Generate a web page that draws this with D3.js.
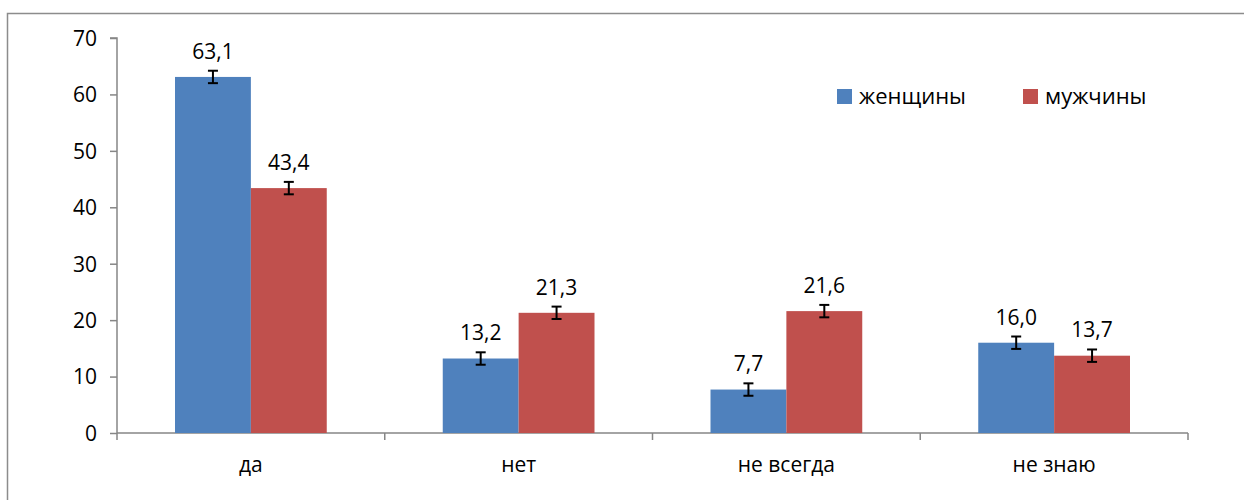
<!DOCTYPE html>
<html><head><meta charset="utf-8">
<script src="https://cdn.jsdelivr.net/npm/d3@7"></script>
<style>body{margin:0;background:#fff}svg{display:block}text{font-family:"Open Sans",sans-serif}</style>
</head><body><svg id="c" width="1244" height="500"></svg>
<script>
const categories = ["да", "нет", "не всегда", "не знаю"];
const seriesNames = ["женщины", "мужчины"];
const women = [63.1, 13.2, 7.7, 16.0];
const men = [43.4, 21.3, 21.6, 13.7];
const womenErr = [1.1, 1.1, 1.1, 1.1];
const menErr = [1.1, 1.1, 1.1, 1.1];
const yTicks = [0, 10, 20, 30, 40, 50, 60, 70];
const colors = ["#4F81BD", "#C0504D"];

(function () {
const svg = d3.select("#c");
const fmt = v => v.toFixed(1).replace(".", ",");
const FS = 21;

// outer frame
svg.append("rect").attr("x", 7.5).attr("y", 13.5).attr("width", 1260).attr("height", 520)
  .attr("fill", "none").attr("stroke", "#8c8c8c").attr("stroke-width", 1.5);

const pl = 117, pr = 1188, pt = 38, pb = 433;
const x0 = d3.scaleBand().domain(categories).range([pl, pr]).paddingInner(0).paddingOuter(0);
const x1 = d3.scaleBand().domain(seriesNames).range([58, x0.bandwidth() - 58]);
const y = d3.scaleLinear().domain([0, 70]).range([pb, pt]);

// y axis
const yAxis = svg.append("g").attr("transform", `translate(${pl},0)`)
  .call(d3.axisLeft(y).tickValues(yTicks).tickSize(7).tickPadding(13).tickFormat(d3.format("d")));
yAxis.select(".domain").attr("stroke", "#868686").attr("stroke-width", 1.5).attr("d", `M-7,${pt}H0V${pb}`);
yAxis.selectAll(".tick line").attr("stroke", "#868686").attr("stroke-width", 1.5);
yAxis.selectAll(".tick text").attr("font-size", FS).attr("fill", "#000").attr("font-family", "Open Sans").attr("dy", "0.35em");

// x axis
const xAxisG = svg.append("g").attr("transform", `translate(0,${pb})`);
xAxisG.append("line").attr("x1", pl).attr("x2", pr).attr("y1", 0).attr("y2", 0)
  .attr("stroke", "#868686").attr("stroke-width", 1.5);
const bounds = categories.map(c => x0(c)).concat([pr]);
xAxisG.selectAll("line.tk").data(bounds).join("line").attr("class", "tk")
  .attr("x1", d => d).attr("x2", d => d).attr("y1", 0).attr("y2", 7)
  .attr("stroke", "#868686").attr("stroke-width", 1.5);
xAxisG.selectAll("text").data(categories).join("text")
  .attr("x", d => x0(d) + x0.bandwidth() / 2).attr("y", 39)
  .attr("text-anchor", "middle").attr("font-size", FS).attr("fill", "#000").text(d => d);

// bars
const data = categories.map((c, i) => ({ c, vals: [
  { s: seriesNames[0], v: women[i], e: womenErr[i], col: colors[0] },
  { s: seriesNames[1], v: men[i], e: menErr[i], col: colors[1] } ] }));

const g = svg.append("g");
const grp = g.selectAll("g").data(data).join("g").attr("transform", d => `translate(${x0(d.c)},0)`);
grp.selectAll("rect").data(d => d.vals).join("rect")
  .attr("x", d => x1(d.s)).attr("width", x1.bandwidth())
  .attr("y", d => y(d.v)).attr("height", d => y(0) - y(d.v)).attr("fill", d => d.col);

// error bars
const eb = grp.selectAll("g.eb").data(d => d.vals).join("g").attr("class", "eb")
  .attr("transform", d => `translate(${x1(d.s) + x1.bandwidth() / 2},0)`);
eb.append("line").attr("x1", 0).attr("x2", 0).attr("y1", d => y(d.v + d.e)).attr("y2", d => y(d.v - d.e))
  .attr("stroke", "#000").attr("stroke-width", 2);
eb.append("line").attr("x1", -5).attr("x2", 5).attr("y1", d => y(d.v + d.e)).attr("y2", d => y(d.v + d.e))
  .attr("stroke", "#000").attr("stroke-width", 2);
eb.append("line").attr("x1", -5).attr("x2", 5).attr("y1", d => y(d.v - d.e)).attr("y2", d => y(d.v - d.e))
  .attr("stroke", "#000").attr("stroke-width", 2);
eb.append("text").attr("x", 0).attr("y", d => y(d.v + d.e) - 12)
  .attr("text-anchor", "middle").attr("font-size", FS).attr("fill", "#000").text(d => fmt(d.v));

// legend
const legX = [837, 1023];
const leg = svg.append("g").selectAll("g").data(seriesNames).join("g")
  .attr("transform", (d, i) => `translate(${legX[i]},89)`);
leg.append("rect").attr("width", 15).attr("height", 15).attr("fill", (d, i) => colors[i]);
leg.append("text").attr("x", 22).attr("y", 7.5).attr("dy", "0.35em").attr("font-size", 22).attr("fill", "#000").text(d => d);
})();
</script></body></html>
